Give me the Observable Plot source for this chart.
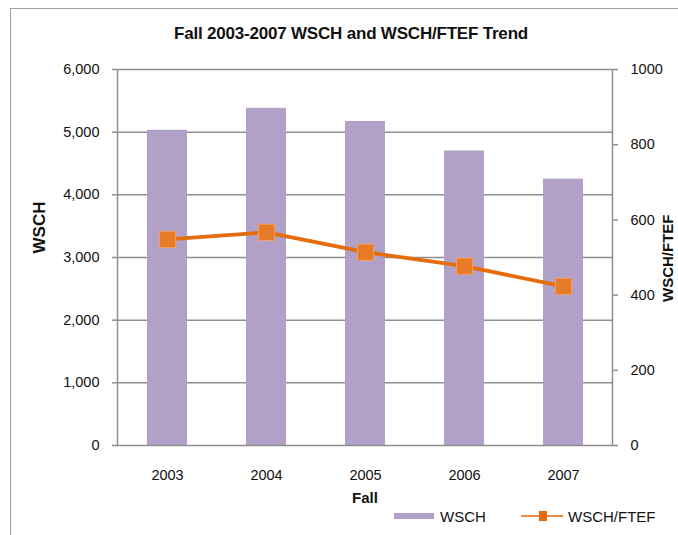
<!DOCTYPE html>
<html>
<head>
<meta charset="utf-8">
<script src="https://cdn.jsdelivr.net/npm/d3@7"></script>
<script src="https://cdn.jsdelivr.net/npm/@observablehq/plot@0.6"></script>
<style>
  html, body { margin: 0; padding: 0; background: #fff; }
  body { font-family: "Liberation Sans", Arial, sans-serif; color: #111; }
  #wrap { position: relative; width: 678px; height: 535px; overflow: hidden; }
  #border { position: absolute; left: 10px; top: 8px; width: 800px; height: 700px;
            border-left: 1.5px solid #a0a0a0; border-top: 1.5px solid #a0a0a0; }
  #title { position: absolute; left: 0; top: 24px; width: 702px; text-align: center;
           font-weight: bold; font-size: 17px; line-height: 20px; letter-spacing: -0.2px; }
  #chart { position: absolute; left: 0; top: 55px; }
  .leg { position: absolute; font-size: 15px; line-height: 18px; }
</style>
</head>
<body>
<div id="wrap">
  <div id="border"></div>
  <div id="chart"></div>
  <div id="title">Fall 2003-2007 WSCH and WSCH/FTEF Trend</div>
  <div id="legend"></div>
</div>
<script>
// ---- data ----
const years = ["2003", "2004", "2005", "2006", "2007"];
const wsch = [5030, 5380, 5170, 4700, 4250];
const wschPerFtef = [548, 567, 514, 477, 423];
const leftTicks = [0, 1000, 2000, 3000, 4000, 5000, 6000];
const rightTicks = [0, 200, 400, 600, 800, 1000];
const seriesNames = ["WSCH", "WSCH/FTEF"];

const leftMax = 6000, rightMax = 1000;
const ratio = leftMax / rightMax;

const data = years.map((y, i) => ({ year: y, wsch: wsch[i], ftef: wschPerFtef[i] }));

const purple = "#B1A0C7";
const orange = "#E46C0A";
const gridGray = "#8f8f8f";

const chart = Plot.plot({
  width: 678,
  height: 480,
  marginTop: 14,
  marginBottom: 90,
  marginLeft: 117,
  marginRight: 66,
  style: { fontFamily: "'Liberation Sans', Arial, sans-serif", fontSize: "14.5px", color: "#111", background: "transparent", overflow: "visible" },
  x: { type: "band", domain: years, paddingInner: 0.6, paddingOuter: 0.3, axis: null },
  y: { domain: [0, leftMax], axis: null },
  marks: [
    Plot.ruleY(leftTicks.slice(1, -1), { stroke: gridGray, strokeWidth: 1.5 }),
    Plot.barY(data, { x: "year", y: "wsch", fill: purple }),
    Plot.frame({ stroke: gridGray, strokeWidth: 1.5 }),
    Plot.axisY({ anchor: "left", ticks: leftTicks, tickFormat: d3.format(","), tickSize: 5, tickPadding: 13, stroke: gridGray, strokeWidth: 1.5, fill: "#111", label: null }),
    Plot.axisY({ anchor: "right", ticks: rightTicks.map(v => v * ratio), tickFormat: d => String(Math.round(d / ratio)), tickSize: 5, tickPadding: 13, stroke: gridGray, strokeWidth: 1.5, fill: "#111", label: null }),
    Plot.axisX({ anchor: "bottom", tickSize: 0, tickPadding: 24, fill: "#111", label: null }),
    Plot.line(data, { x: "year", y: d => d.ftef * ratio, stroke: orange, strokeWidth: 3.8 }),
    Plot.dot(data, { x: "year", y: d => d.ftef * ratio, symbol: "square", r: 9.2, fill: "#E87B27", stroke: "#F3A262", strokeWidth: 1 }),
    Plot.text(["Fall"], { frameAnchor: "bottom", dy: 57, fontWeight: "bold", fontSize: 15, fill: "#111" }),
    Plot.text(["WSCH"], { frameAnchor: "left", dx: -78, dy: -4, rotate: -90, fontWeight: "bold", fontSize: 17, fill: "#111" }),
    Plot.text(["WSCH/FTEF"], { frameAnchor: "right", dx: 56, dy: -43, rotate: -90, fontWeight: "bold", fontSize: 15, fill: "#111" })
  ]
});
document.getElementById("chart").appendChild(chart);

// ---- legend ----
const legend = document.getElementById("legend");
legend.innerHTML = `
  <div style="position:absolute;left:394px;top:513px;width:40px;height:6px;background:${purple}"></div>
  <div class="leg" style="left:440px;top:508px">${seriesNames[0]}</div>
  <div style="position:absolute;left:521px;top:515px;width:42px;height:2px;background:#F28A3A"></div>
  <div style="position:absolute;left:539px;top:511px;width:8px;height:10px;background:${orange}"></div>
  <div class="leg" style="left:568px;top:508px">${seriesNames[1]}</div>
`;
</script>
</body>
</html>
